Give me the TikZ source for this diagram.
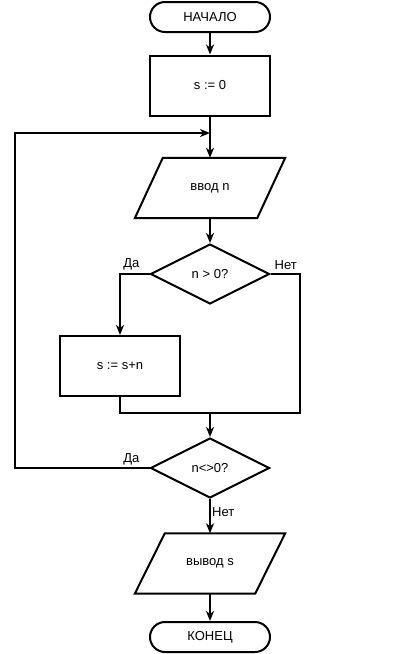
\documentclass[tikz,border=0pt]{standalone}
\usepackage{fontspec}
\setmainfont{Liberation Sans}
\usetikzlibrary{shapes.geometric,arrows.meta}
\begin{document}
\begin{tikzpicture}[x=1pt,y=-1pt,
  every node/.style={font=\fontsize{13}{15}\selectfont},
  line/.style={line width=2pt},
  arr/.style={line width=2pt,-{Stealth[length=10pt,width=8pt,inset=3pt]}},
  term/.style={draw,line width=2pt,rounded corners=15pt,minimum width=120pt,minimum height=30pt,inner sep=0pt},
  proc/.style={draw,line width=2pt,minimum width=120pt,minimum height=60pt,inner sep=0pt},
  iobox/.style={minimum width=150pt,minimum height=60pt,inner sep=0pt},
  cond/.style={draw,diamond,line width=2pt,minimum width=119pt,minimum height=60pt,inner sep=0pt},
  lbl/.style={inner sep=1pt}]
\useasboundingbox (0,0) rectangle (420,654);
\node[term] (start) at (210,17) {НАЧАЛО};
\node[proc] (s0) at (210,85.5) {s := 0};
\node[iobox] (vvod) at (210,188) {ввод n};
\draw[line,line join=miter] ([xshift=28pt]vvod.north west) -- (vvod.north east) -- ([xshift=-28pt]vvod.south east) -- (vvod.south west) -- cycle;
\node[cond] (c1) at (210,274) {n > 0?};
\node[proc] (add) at (120,366) {s := s+n};
\node[cond] (c2) at (210,468) {n<>0?};
\node[iobox] (out) at (210,563.5) {вывод s};
\draw[line,line join=miter] ([xshift=30pt]out.north west) -- (out.north east) -- ([xshift=-30pt]out.south east) -- (out.south west) -- cycle;
\node[term] (end) at (210,637) {КОНЕЦ};

\coordinate (join) at (210,133);
\coordinate (merge) at (210,413);
\coordinate (lt) at (15,133);
\coordinate (lb) at (15,468);
\coordinate (c1l) at (120,274);
\coordinate (c1r) at (300,274);
\coordinate (mr) at (300,413);
\coordinate (ml) at (120,413);

\draw[arr] (start) -- (s0);
\draw[arr] (s0) -- (vvod.north);
\draw[arr] (vvod.south) -- (c1);
\draw[arr] (c1.west) -- (c1l) -- (add);
\draw[line] (c1.east) -- (c1r) -- (mr) -- (ml) -- (add.south);
\draw[arr] (merge) -- (c2);
\draw[arr] (c2.west) -- (lb) -- (lt) -- (join);
\draw[arr] (c2) -- (out.north);
\draw[arr] (out.south) -- (end);

\node[lbl,anchor=south east] (da1) at ([xshift=-9pt,yshift=3pt]c1.west) {Да};
\node[lbl,anchor=south west] (net1) at ([xshift=3pt,yshift=3pt]c1.east) {Нет};
\node[lbl,anchor=south east] (da2) at ([xshift=-9pt,yshift=2pt]c2.west) {Да};
\node[lbl,anchor=west] (net2) at ([xshift=1pt,yshift=-13pt]c2.south) {Нет};
\end{tikzpicture}
\end{document}
